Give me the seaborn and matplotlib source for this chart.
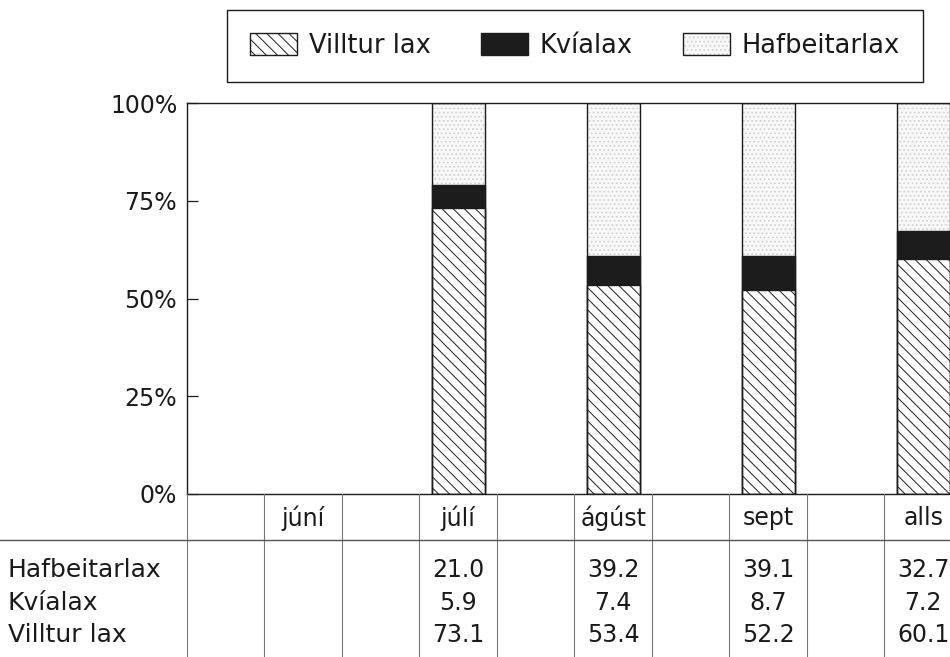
import numpy as np
import pandas as pd
import matplotlib.pyplot as plt
from matplotlib.patches import Patch
from matplotlib.legend_handler import HandlerTuple
import seaborn as sns

# values (% of catch per month)
months = ["júní", "júlí", "ágúst", "sept", "alls"]
hafbeit = [np.nan, 21.0, 39.2, 39.1, 32.7]
kvia = [np.nan, 5.9, 7.4, 8.7, 7.2]
villtur = [np.nan, 73.1, 53.4, 52.2, 60.1]
yticks = [0, 25, 50, 75, 100]
ytick_labels = ["0%", "25%", "50%", "75%", "100%"]

# every other column of the table holds a month
slot = [1, 3, 5, 7, 9]

df = pd.DataFrame({"slot": slot, "month": months,
                   "Hafbeitarlax": hafbeit, "Kvíalax": kvia, "Villtur lax": villtur})
df["low"] = df["Villtur lax"]
df["mid"] = df["low"] + df["Kvíalax"]
df["top"] = df["mid"] + df["Hafbeitarlax"]

sns.set_theme(style="white")
plt.rcParams["font.family"] = ["DejaVu Sans"]
plt.rcParams["hatch.linewidth"] = 0.7
plt.rcParams["text.color"] = "#1a1a1a"
plt.rcParams["ytick.color"] = "#1a1a1a"
plt.rcParams["ytick.labelcolor"] = "#1a1a1a"

ink = "#1c1c1c"
dots_face, dots_col = "#f8f8f8", "#cfcfcf"
fig = plt.figure(figsize=(9.5, 6.57), dpi=100)
ax = fig.add_axes([0.1968, 0.2481, 0.8158, 0.5951])
tab = fig.add_axes([0.1968, 0.0, 0.8158, 0.2481])

kw = dict(data=df, x="slot", native_scale=True, orient="x", width=0.34,
          errorbar=None, saturation=1, ax=ax)
# stacked bars: draw the totals first and paint lower segments over them
sns.barplot(y="top", color=dots_face, edgecolor=dots_col, linewidth=0, hatch="....", **kw)
sns.barplot(y="mid", color=ink, edgecolor=ink, linewidth=1, **kw)
sns.barplot(y="low", color="white", edgecolor=ink, linewidth=1, hatch="\\\\\\", **kw)
sns.barplot(y="top", fill=False, color=ink, linewidth=1, **kw)

ax.set_xlim(-0.5, 9.5)
ax.set_ylim(0, 100)
ax.set_xticks([])
ax.set_xlabel("")
ax.set_ylabel("")
ax.set_yticks(yticks)
ax.set_yticklabels(ytick_labels)
ax.tick_params(axis="y", direction="in", left=True, length=8, width=0.9,
               pad=7, labelsize=17)
for sp in ax.spines.values():
    sp.set_color(ink)
    sp.set_linewidth(1)

# data table under the bars
tab.set_xlim(-0.5, 9.5)
tab.set_ylim(0, 1)
tab.axis("off")
for k in range(11):
    tab.axvline(k - 0.5, color="#777777", lw=0.8)
tab.axhline(0.718, xmin=-0.25, xmax=1, color="#555555", lw=1, clip_on=False)

for s, m in zip(slot, months):
    tab.text(s, 0.853, m, ha="center", va="center", fontsize=17)

rows = [("Hafbeitarlax", hafbeit, 0.534),
        ("Kvíalax", kvia, 0.331),
        ("Villtur lax", villtur, 0.135)]
for name, vals, y in rows:
    tab.text(-2.81, y, name, ha="left", va="center", fontsize=18)
    for s, v in zip(slot, vals):
        if not np.isnan(v):
            tab.text(s, y, f"{v:.1f}", ha="center", va="center", fontsize=17)

h_v = Patch(facecolor="white", edgecolor=ink, lw=1, hatch="\\\\\\")
h_k = Patch(facecolor=ink, edgecolor=ink, lw=1)
h_h = (Patch(facecolor=dots_face, edgecolor=dots_col, lw=0, hatch="...."),
       Patch(fill=False, edgecolor=ink, lw=1))
leg = fig.legend(handles=[h_v, h_k, h_h], labels=["Villtur lax", "Kvíalax", "Hafbeitarlax"],
                 loc="center", bbox_to_anchor=(227 / 950, 1 - 82 / 657, 696 / 950, 72 / 657),
                 mode="expand", ncol=3, frameon=True, fancybox=False, framealpha=1,
                 edgecolor=ink, borderpad=0.9, borderaxespad=0, handlelength=1.83,
                 handleheight=0.97, handletextpad=0.45, fontsize=18.5,
                 handler_map={tuple: HandlerTuple(ndivide=1)})
leg.get_frame().set_linewidth(1)

fig.savefig("out.png", dpi=100)
